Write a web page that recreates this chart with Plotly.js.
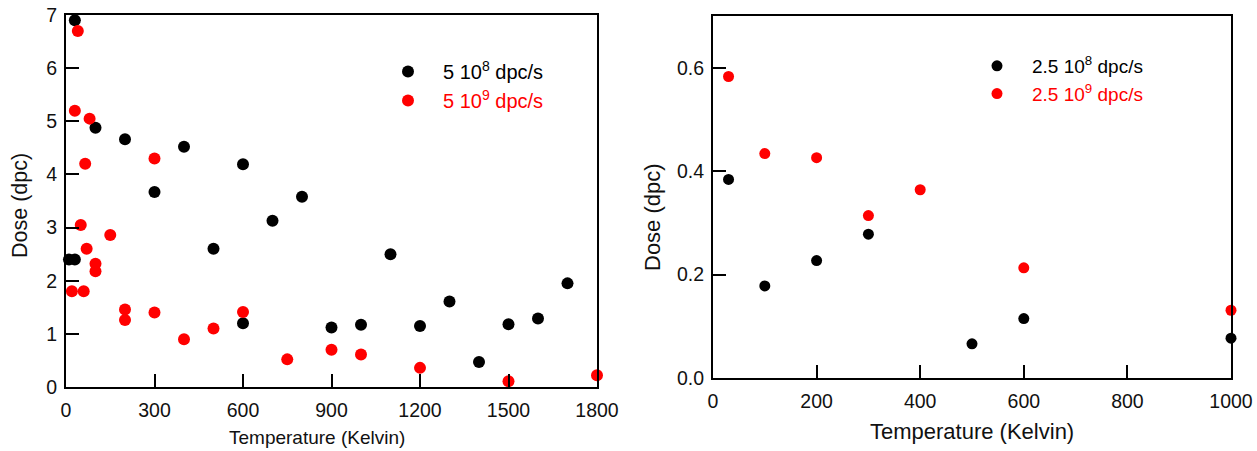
<!DOCTYPE html>
<html>
<head>
<meta charset="utf-8">
<script src="https://cdn.plot.ly/plotly-3.0.1.min.js"></script>
<style>html,body{margin:0;padding:0;background:#fff}#chart{width:1257px;height:451px}</style>
</head>
<body>
<div id="chart"></div>
<script>
// Left panel: 5 10^8 dpc/s (black) and 5 10^9 dpc/s (red)
const leftBlackT = [10, 30, 30, 100, 200, 300, 400, 500, 600, 600, 700, 800, 900, 1000, 1100, 1200, 1300, 1400, 1500, 1600, 1700];
const leftBlackDose = [2.4, 2.4, 6.9, 4.88, 4.66, 3.67, 4.52, 2.6, 4.19, 1.2, 3.13, 3.58, 1.12, 1.17, 2.5, 1.15, 1.61, 0.47, 1.18, 1.29, 1.95];
const leftRedT = [20, 30, 40, 50, 60, 65, 70, 80, 100, 100, 150, 200, 200, 300, 300, 400, 500, 600, 750, 900, 1000, 1200, 1500, 1800];
const leftRedDose = [1.8, 5.2, 6.7, 3.05, 1.8, 4.2, 2.6, 5.05, 2.32, 2.18, 2.86, 1.46, 1.26, 4.3, 1.4, 0.9, 1.1, 1.41, 0.52, 0.7, 0.61, 0.36, 0.11, 0.22];
// Right panel: 2.5 10^8 dpc/s (black) and 2.5 10^9 dpc/s (red)
const rightBlackT = [30, 100, 200, 300, 500, 600, 1000];
const rightBlackDose = [0.384, 0.178, 0.227, 0.278, 0.066, 0.115, 0.077];
const rightRedT = [30, 100, 200, 300, 400, 600, 1000];
const rightRedDose = [0.583, 0.434, 0.426, 0.314, 0.364, 0.213, 0.131];

const leftNames = ['5 10<sup>8</sup> dpc/s', '<span style="color:#ff0000">5 10<sup>9</sup> dpc/s</span>'];
const rightNames = ['2.5 10<sup>8</sup> dpc/s', '<span style="color:#ff0000">2.5 10<sup>9</sup> dpc/s</span>'];
const xTitle = 'Temperature (Kelvin)';
const yTitle = 'Dose (dpc)';

const FONT = 'Liberation Sans, Arial, sans-serif';
const BLACK = '#000000', RED = '#ff0000';

const traces = [
  {x: leftBlackT, y: leftBlackDose, type: 'scatter', mode: 'markers', name: leftNames[0],
   marker: {color: BLACK, size: 12}, xaxis: 'x', yaxis: 'y', legend: 'legend', cliponaxis: false},
  {x: leftRedT, y: leftRedDose, type: 'scatter', mode: 'markers', name: leftNames[1],
   marker: {color: RED, size: 12}, xaxis: 'x', yaxis: 'y', legend: 'legend', cliponaxis: false},
  {x: rightBlackT, y: rightBlackDose, type: 'scatter', mode: 'markers', name: rightNames[0],
   marker: {color: BLACK, size: 11}, xaxis: 'x2', yaxis: 'y2', legend: 'legend2', cliponaxis: false},
  {x: rightRedT, y: rightRedDose, type: 'scatter', mode: 'markers', name: rightNames[1],
   marker: {color: RED, size: 11}, xaxis: 'x2', yaxis: 'y2', legend: 'legend2', cliponaxis: false}
];

const W = 1257, H = 451;
function axisBase(isX) {
  return {
    showline: true, linecolor: '#000', linewidth: 2, mirror: true,
    ticks: 'inside', ticklen: 13, tickwidth: 2, tickcolor: '#000',
    showgrid: false, zeroline: false,
    ticklabelstandoff: isX ? 5 : 3,
    tickfont: {family: FONT, size: 19.5, color: '#111'},
    fixedrange: true
  };
}
function titleAnn(text, px, py, size, angle) {
  return {text: text, xref: 'paper', yref: 'paper', x: px / W, y: 1 - py / H,
    xanchor: 'center', yanchor: 'middle', showarrow: false, textangle: angle,
    font: {family: FONT, size: size, color: '#111'}};
}
const layout = {
  width: W, height: H,
  margin: {l: 0, r: 0, t: 0, b: 0},
  paper_bgcolor: '#fff', plot_bgcolor: '#fff',
  font: {family: FONT, color: '#111'},
  showlegend: true,
  xaxis: Object.assign(axisBase(true), {
    domain: [66 / W, 597 / W], range: [0, 1800], tick0: 0, dtick: 300, anchor: 'y'
  }),
  yaxis: Object.assign(axisBase(false), {
    domain: [1 - 387 / H, 1 - 15 / H], range: [0, 7], tick0: 0, dtick: 1, anchor: 'x'
  }),
  xaxis2: Object.assign(axisBase(true), {
    domain: [713 / W, 1231 / W], range: [0, 1000], tick0: 0, dtick: 200, anchor: 'y2'
  }),
  yaxis2: Object.assign(axisBase(false), {
    domain: [1 - 378 / H, 1 - 16 / H], range: [0, 0.7], tick0: 0, dtick: 0.2, tickformat: '.1f', anchor: 'x2'
  }),
  annotations: [
    titleAnn(xTitle, 317, 437, 19, 0),
    titleAnn(yTitle, 20, 206, 21.5, -90),
    titleAnn(xTitle, 971.5, 431, 22, 0),
    titleAnn(yTitle, 652, 217, 22, -90)
  ],
  legend: {
    x: 373 / W, y: 1 - 52 / H, xanchor: 'left', yanchor: 'top',
    bgcolor: 'rgba(0,0,0,0)', borderwidth: 0, itemwidth: 60,
    font: {family: FONT, size: 20, color: '#000'}
  },
  legend2: {
    x: 962 / W, y: 1 - 47 / H, xanchor: 'left', yanchor: 'top',
    bgcolor: 'rgba(0,0,0,0)', borderwidth: 0, itemwidth: 60,
    font: {family: FONT, size: 19, color: '#000'}
  }
};
Plotly.newPlot('chart', traces, layout, {displayModeBar: false, staticPlot: true});
</script>
</body>
</html>
